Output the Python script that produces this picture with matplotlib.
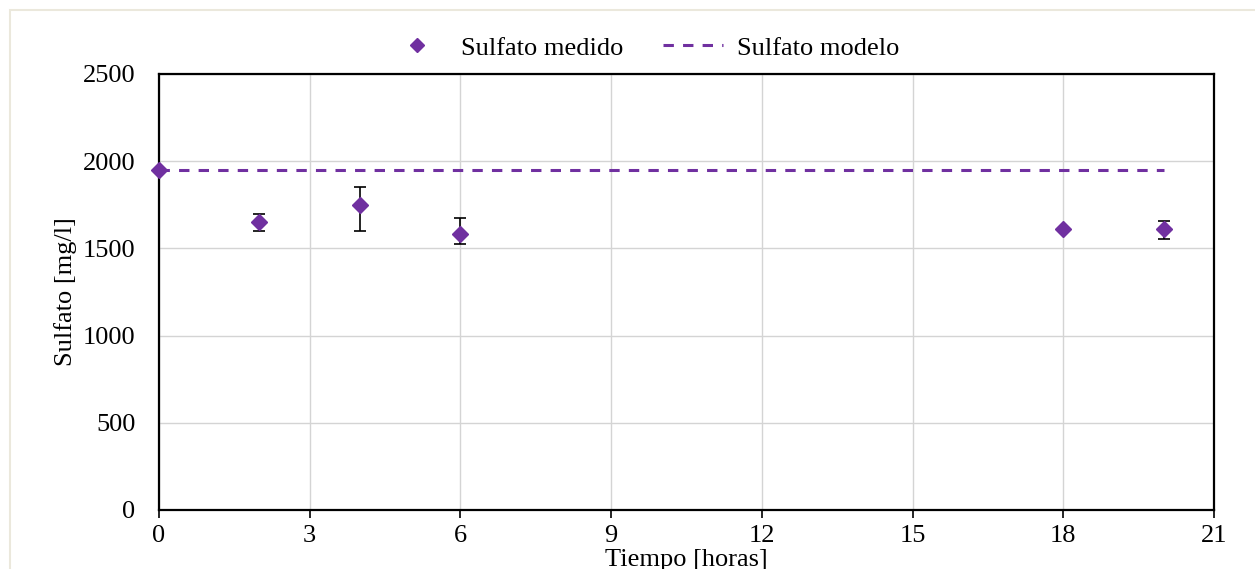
import matplotlib
matplotlib.use("Agg")
import matplotlib.pyplot as plt
from matplotlib.lines import Line2D
from matplotlib.patches import Rectangle
import numpy as np

# Measured sulfate (mg/l) with lower / upper error amounts
tiempo = [0, 2, 4, 6, 18, 20]
sulfato_medido = [1950, 1650, 1750, 1585, 1610, 1610]
err_inferior = [0, 50, 150, 60, 8, 55]
err_superior = [0, 50, 100, 90, 8, 45]

# Model prediction
tiempo_modelo = [0, 20]
sulfato_modelo = [1950, 1950]

x_ticks = [0, 3, 6, 9, 12, 15, 18, 21]
y_ticks = [0, 500, 1000, 1500, 2000, 2500]

purple = "#7030A0"
plt.rcParams["font.family"] = ["Liberation Serif", "DejaVu Serif"]

fig = plt.figure(figsize=(12.55, 5.69), dpi=100)
# chart-area border
fig.patches.append(Rectangle((10 / 1255, -0.01), 1.02, 1 - 10 / 569 + 0.01,
                             transform=fig.transFigure, fill=False,
                             edgecolor="#ebe8dc", linewidth=1.5, zorder=0))

ax = fig.add_axes([159 / 1255, 1 - 510 / 569, (1214 - 159) / 1255, (510 - 74) / 569])

ax.plot(tiempo_modelo, sulfato_modelo, color=purple, linewidth=2.2,
        dashes=(3.4, 3.0), zorder=2)

ax.errorbar(tiempo[1:], sulfato_medido[1:],
            yerr=[err_inferior[1:], err_superior[1:]],
            fmt="none", ecolor="black", elinewidth=1.2, capsize=4.5,
            capthick=1.2, zorder=3)
ax.plot(tiempo, sulfato_medido, linestyle="none", marker="D", markersize=8,
        color=purple, zorder=4, clip_on=False)

ax.set_xlim(0, 21)
ax.set_ylim(0, 2500)
ax.set_xticks(x_ticks)
ax.set_yticks(y_ticks)
ax.grid(True, color="#d4d4d4", linewidth=1.0)
ax.set_axisbelow(True)
for s in ax.spines.values():
    s.set_linewidth(1.6)
    s.set_color("black")

ax.tick_params(axis="x", direction="out", length=6, width=1.2, labelsize=19, pad=5)
ax.tick_params(axis="y", length=0, labelsize=19, pad=17)

ax.set_xlabel("Tiempo [horas]", fontsize=19, labelpad=1)
ax.set_ylabel("Sulfato [mg/l]", fontsize=19, labelpad=4)

handles = [
    Line2D([], [], linestyle="none", marker="D", markersize=7, color=purple),
    Line2D([], [], color=purple, linewidth=2.2, dashes=(3.4, 3.0)),
]
fig.legend(handles, ["Sulfato medido", "Sulfato modelo"], loc="center",
           bbox_to_anchor=(643 / 1255, 1 - 48 / 569), ncol=2, frameon=False,
           fontsize=19, handlelength=2.3, handletextpad=0.5, columnspacing=1.5,
           borderaxespad=0)

fig.savefig("out.png", dpi=100, facecolor="white")
